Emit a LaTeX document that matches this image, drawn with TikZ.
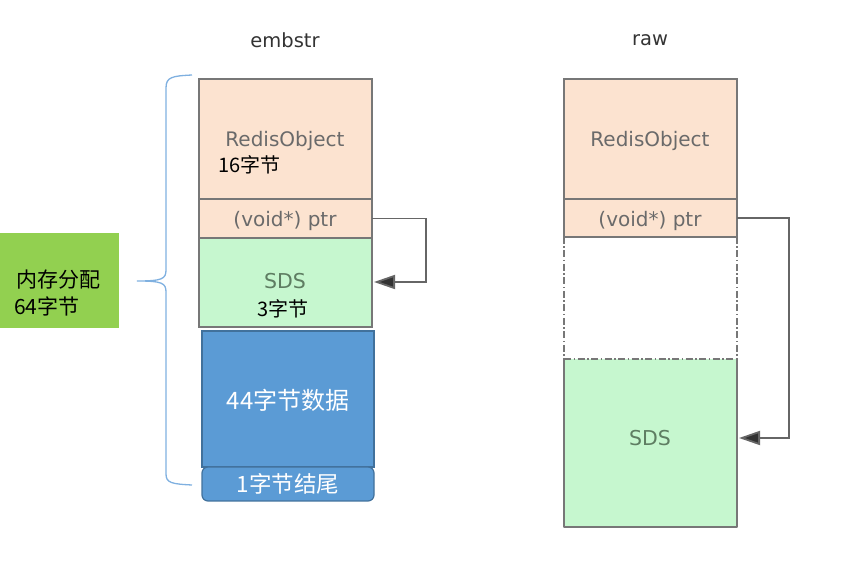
\documentclass[tikz,border=0pt]{standalone}
\usepackage{fontspec}
\setmainfont{DejaVu Sans}
\newfontfamily\cjk{Noto Sans CJK SC}
\usetikzlibrary{arrows.meta,calc}
\definecolor{peach}{HTML}{FCE3D0}
\definecolor{mint}{HTML}{C6F7CF}
\definecolor{boxline}{HTML}{777777}
\definecolor{graytext}{HTML}{6A6A6A}
\definecolor{sdstext}{HTML}{5E7D62}
\definecolor{bluefill}{HTML}{5B9BD5}
\definecolor{blueline}{HTML}{41719C}
\definecolor{bracecol}{HTML}{7FB0E0}
\definecolor{leaf}{HTML}{92D050}
\begin{document}
\begin{tikzpicture}[x=1pt,y=-1pt,
  cell/.style={draw=boxline,line width=1.4pt,anchor=north west,inner sep=0pt,outer sep=0pt},
  ro/.style={cell,fill=peach},
  sds/.style={cell,fill=mint},
  blk/.style={draw=blueline,line width=1.2pt,fill=bluefill,anchor=north west,inner sep=0pt,outer sep=0pt},
  lbl/.style={text=graytext,font=\fontsize{20}{22}\selectfont,inner sep=0pt},
  title/.style={text=black!80,font=\fontsize{19.5}{21}\selectfont,inner sep=0pt},
  sdslbl/.style={text=sdstext,font=\fontsize{20.5}{22}\selectfont,inner sep=0pt},
  cn/.style={font=\cjk\fontsize{20}{22}\selectfont,inner sep=0pt},
  wcn/.style={font=\cjk\fontsize{24}{26}\selectfont,text=white,inner sep=0pt},
  dd/.style={draw=boxline,line width=1.5pt,dash pattern=on 7pt off 2.5pt on 1.5pt off 2.5pt},
  arr/.style={draw=black!60,line width=1.8pt,-{Triangle[length=21pt,width=14pt,fill=black!80]}},
]
\useasboundingbox (0,0) rectangle (847,561);

% titles
\node[title] (t1) at (285,40) {embstr};
\node[title] (t2) at (650,40) {raw};

% embstr column
\node[ro,minimum width=173pt,minimum height=120pt] (ro1) at (199,79) {};
\node[ro,minimum width=173pt,minimum height=39pt] (ptr1) at (199,199) {};
\node[sds,minimum width=173pt,minimum height=89pt] (sds1) at (199,238) {};
\node[blk,minimum width=172pt,minimum height=136pt] (d44) at (202,331) {};
\node[blk,rounded corners=6pt,minimum width=172pt,minimum height=34pt] (tail) at (202,467) {};

\node[lbl] (rol1) at (285,141) {RedisObject};
\node[cn,anchor=west] (b16) at (218,165) {16字节};
\node[lbl] (ptl1) at (285,221) {(void*) ptr};
\node[sdslbl] (sl1) at (285,281) {SDS};
\node[cn] (b3) at (283,309) {3字节};
\node[wcn] (b44) at (288,400) {44字节数据};
\node[wcn,font=\cjk\fontsize{22.5}{24}\selectfont] (b1) at (288,484) {1字节结尾};

\coordinate (c1) at (426,282);
\draw[arr] (ptr1.east) -| (c1) -- ($(c1 -| sds1.east)+(2,0)$);

% brace
\draw[bracecol,line width=1.3pt]
  (192,75) .. controls (172,76) and (166,77) .. (166,88)
  -- (166,270) .. controls (166,279) and (162,281) .. (137,281)
  .. controls (162,281) and (166,283) .. (166,292)
  -- (166,474) .. controls (166,483) and (172,484) .. (192,485);

% green box
\node[fill=leaf,anchor=north west,minimum width=119pt,minimum height=95pt,inner sep=0pt] (mem) at (0,233) {};
\node[cn,font=\cjk\fontsize{21}{23}\selectfont,anchor=west] (m1) at (16,280) {内存分配};
\node[cn,font=\cjk\fontsize{21}{23}\selectfont,anchor=west] (m2) at (14,306) {64字节};

% raw column
\node[anchor=north west,minimum width=173pt,minimum height=122pt,inner sep=0pt,outer sep=0pt] (emp) at (564,237) {};
\draw[dd] (emp.north west) -- (emp.south west);
\draw[dd] (emp.north east) -- (emp.south east);
\node[ro,minimum width=173pt,minimum height=120pt] (ro2) at (564,79) {};
\node[ro,minimum width=173pt,minimum height=38pt] (ptr2) at (564,199) {};
\node[fill=mint,anchor=north west,minimum width=173pt,minimum height=168pt,inner sep=0pt,outer sep=0pt] (sds2) at (564,359) {};
\draw[boxline,line width=1.4pt,line join=round] (sds2.north west) -- (sds2.south west) -- (sds2.south east) -- (sds2.north east);
\draw[dd] (sds2.north west) -- (sds2.north east);

\node[lbl] (rol2) at (650,141) {RedisObject};
\node[lbl] (ptl2) at (650,221) {(void*) ptr};
\node[sdslbl] (sl2) at (650,438) {SDS};

\coordinate (c2) at (789,438);
\draw[arr] (ptr2.east) -| (c2) -- ($(c2 -| sds2.east)+(2,0)$);
\end{tikzpicture}
\end{document}
